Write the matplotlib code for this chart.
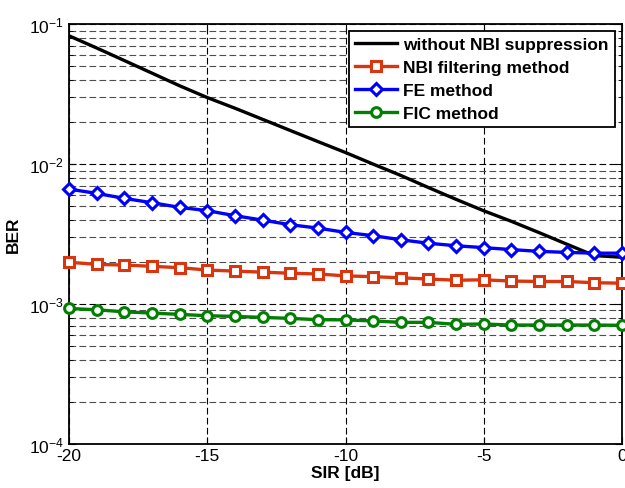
import matplotlib
matplotlib.use('Agg')
import matplotlib.pyplot as plt
import numpy as np
from matplotlib.ticker import LogLocator, FuncFormatter, NullFormatter

plt.rcParams['font.family'] = ['Liberation Sans', 'DejaVu Sans']
plt.rcParams['mathtext.fontset'] = 'custom'
plt.rcParams['mathtext.rm'] = 'Liberation Sans'
plt.rcParams['axes.unicode_minus'] = False

sir = [-20, -19, -18, -17, -16, -15, -14, -13, -12, -11, -10,
       -9, -8, -7, -6, -5, -4, -3, -2, -1, 0]

ber_none = [0.0826, 0.0676, 0.0550, 0.0447, 0.0363, 0.0299, 0.0251, 0.0209, 0.0174, 0.0145, 0.0121,
            0.0100, 0.0083, 0.0068, 0.0056, 0.00464, 0.0039, 0.00324, 0.00268, 0.00222, 0.00216]
ber_filt = [0.00199, 0.00192, 0.00190, 0.00186, 0.00182, 0.00175, 0.00172, 0.00169, 0.00166, 0.00164, 0.00159,
            0.00157, 0.00154, 0.00151, 0.00148, 0.00149, 0.00146, 0.00145, 0.00145, 0.00142, 0.00141]
ber_fe = [0.00663, 0.00618, 0.00569, 0.00530, 0.00491, 0.00465, 0.00428, 0.00398, 0.00369, 0.00349, 0.00325,
          0.00308, 0.00288, 0.00272, 0.00261, 0.00253, 0.00245, 0.00238, 0.00234, 0.00231, 0.00231]
ber_fic = [0.00093, 0.00091, 0.00088, 0.000862, 0.000844, 0.000825, 0.000816, 0.000803, 0.00079, 0.000773, 0.000771,
           0.000757, 0.00074, 0.00074, 0.000716, 0.00072, 0.000708, 0.000708, 0.000708, 0.000708, 0.000705]

labels = ['without NBI suppression', 'NBI filtering method', 'FE method', 'FIC method']

fig = plt.figure(figsize=(6.25, 4.89), dpi=100)
ax = fig.add_axes([0.1104, 0.090, 0.8848, 0.8585])

ax.semilogy(sir, ber_none, color='black', lw=2.4, label=labels[0], zorder=3)
ax.semilogy(sir, ber_filt, color='#d9360f', lw=2.4, marker='s', ms=6.5, mfc='white', mew=2.2,
            label=labels[1], clip_on=False, zorder=4)
ax.semilogy(sir, ber_fe, color='#0000ff', lw=2.4, marker='D', ms=6.5, mfc='white', mew=2.2,
            label=labels[2], clip_on=False, zorder=4)
ax.semilogy(sir, ber_fic, color='#007f00', lw=2.4, marker='o', ms=7, mfc='white', mew=2.2,
            label=labels[3], clip_on=False, zorder=4)

ax.set_xlim(-20, 0)
ax.set_ylim(1e-4, 1e-1)
ax.set_xticks([-20, -15, -10, -5, 0])
ax.yaxis.set_major_locator(LogLocator(base=10, numticks=10))
ax.yaxis.set_minor_locator(LogLocator(base=10, subs=np.arange(2, 10), numticks=20))
ax.yaxis.set_minor_formatter(NullFormatter())
ax.yaxis.set_major_formatter(FuncFormatter(lambda v, p: r'$\mathregular{10^{%d}}$' % round(np.log10(v))))

ax.grid(True, which='major', color='black', lw=0.8, linestyle=(0, (6, 3)))
ax.grid(True, which='minor', axis='y', color='0.3', lw=0.8, linestyle=(0, (6, 3)))
ax.tick_params(which='both', direction='in', top=True, right=True, labelsize=12.5)
ax.tick_params(which='major', length=5)
ax.tick_params(which='minor', length=3)
ax.tick_params(axis='x', pad=3)
for s in ax.spines.values():
    s.set_linewidth(1.3)

ax.set_xlabel('SIR [dB]', fontsize=12.5, fontweight='bold', labelpad=1)
ax.set_ylabel('BER', fontsize=12.5, fontweight='bold', labelpad=6)

leg = ax.legend(loc='upper right', prop={'weight': 'bold', 'size': 12.5},
                fancybox=False, framealpha=1, edgecolor='black', borderpad=0.35,
                labelspacing=0.45, handlelength=2.4, handletextpad=0.4, borderaxespad=0.4)
leg.get_frame().set_linewidth(1.3)

fig.savefig('out.png', dpi=100)
